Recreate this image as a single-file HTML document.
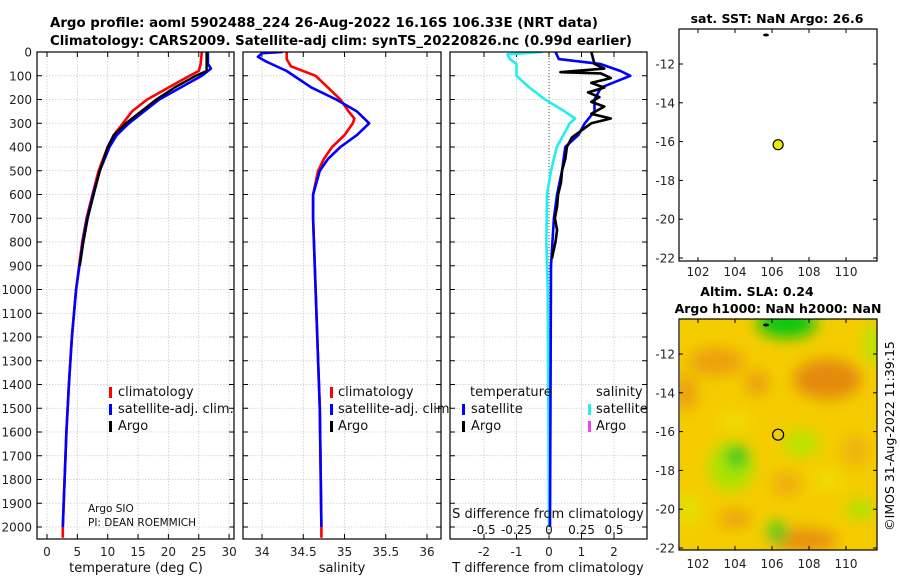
<!DOCTYPE html>
<html><head><meta charset="utf-8">
<style>
body{margin:0;background:#fff;}
svg{font-family:"DejaVu Sans","Liberation Sans",sans-serif;}
</style></head>
<body>
<svg id="chart" width="900" height="580" viewBox="0 0 900 580" xmlns="http://www.w3.org/2000/svg">
<defs>
<clipPath id="c1"><rect x="37" y="52" width="197" height="487"/></clipPath>
<clipPath id="c2"><rect x="243" y="52" width="198" height="487"/></clipPath>
<clipPath id="c3"><rect x="450" y="52" width="197" height="487"/></clipPath>
<clipPath id="cm"><rect x="680" y="319" width="197" height="231"/></clipPath>
<filter id="bl" x="-50%" y="-50%" width="200%" height="200%"><feGaussianBlur stdDeviation="7"/></filter>
</defs>
<text x="50" y="27" font-size="13" font-weight="bold" textLength="548" lengthAdjust="spacingAndGlyphs">Argo profile: aoml 5902488_224 26-Aug-2022 16.16S 106.33E (NRT data)</text>
<text x="50" y="45" font-size="13" font-weight="bold" textLength="582" lengthAdjust="spacingAndGlyphs">Climatology: CARS2009. Satellite-adj clim: synTS_20220826.nc (0.99d earlier)</text>
<g id="g"></g>
<text x="777" y="23" font-size="12.5" font-weight="bold" text-anchor="middle">sat. SST: NaN Argo: 26.6</text>
<text x="757" y="296" font-size="12.5" font-weight="bold" text-anchor="middle">Altim. SLA: 0.24</text>
<text x="778" y="313" font-size="12.5" font-weight="bold" text-anchor="middle">Argo h1000: NaN h2000: NaN</text>
<text transform="translate(894,436) rotate(-90)" font-size="12.5" text-anchor="middle">©IMOS 31-Aug-2022 11:39:15</text>
</svg>
<script>
const depthTicks=[0,100,200,300,400,500,600,700,800,900,1000,1100,1200,1300,1400,1500,1600,1700,1800,1900,2000];
const tempTicks=[0,5,10,15,20,25,30];
const salTicks=[34,34.5,35,35.5,36];
const tdiffTicks=[-2,-1,0,1,2];
const sdiffTicks=[-0.5,-0.25,0,0.25,0.5];
const sdiffLabels=["-0.5","-0.25","0","0.25","0.5"];
const lonTicks=[102,104,106,108,110];
const latTicks=[-12,-14,-16,-18,-20,-22];

const tClimDepth=[0,50,80,100,150,200,250,300,350,400,500,600,700,800,1000,1200,1400,1600,1800,2000,2045];
const tClim=[25.5,25.3,25,23.5,20,16.5,14,12.5,11,10,8.5,7.5,6.5,5.8,4.8,4.1,3.6,3.2,2.9,2.6,2.6];
const tSatDepth=[0,50,70,100,150,200,250,300,350,400,500,600,700,800,1000,1200,1400,1600,1800,2000];
const tSat=[26.5,26.5,27,25.5,22,18.5,16,13.5,11.5,10.3,8.7,7.6,6.6,5.9,4.8,4.1,3.6,3.2,2.9,2.6];
const tArgoDepth=[0,80,100,150,200,250,300,350,400,500,600,700,800,900];
const tArgo=[26.3,26.3,24.5,21,18,15.5,13,11,10,8.7,7.7,6.7,6,5.4];

const sClimDepth=[0,30,60,100,150,200,250,280,300,350,400,450,500,600,700,1000,1500,2000,2045];
const sClim=[34.3,34.3,34.35,34.65,34.8,34.95,35.05,35.12,35.1,35.0,34.85,34.75,34.68,34.62,34.62,34.65,34.7,34.72,34.72];
const sSatDepth=[0,5,20,40,80,150,200,250,300,350,400,450,500,600,700,1000,1500,2000];
const sSat=[34.25,34.0,33.95,34.05,34.3,34.6,34.9,35.15,35.3,35.15,34.95,34.8,34.7,34.62,34.62,34.65,34.7,34.72];

const dTSatDepth=[0,30,50,80,100,150,200,250,300,350,400,500,600,700,900,2000];
const dTSat=[0.2,0.3,1.57,2.2,2.5,1.6,1.4,1.4,1.1,0.9,0.5,0.4,0.25,0.15,0.06,0.03];
const dTArgoDepth=[0,50,70,85,90,110,130,150,170,190,210,230,260,280,300,330,360,400,450,500,550,600,650,700,750,800,850,870];
const dTArgo=[1.3,1.4,1.7,0.35,1.6,1.9,1.3,1.7,1.2,1.55,1.3,1.7,1.3,1.9,1.3,1.0,0.7,0.55,0.5,0.4,0.37,0.28,0.25,0.18,0.25,0.2,0.12,0.09];
const dSSatDepth=[0,10,30,50,100,150,200,250,280,300,400,500,600,800,1000,2000];
const dSSat=[-0.05,-0.32,-0.3,-0.25,-0.25,-0.15,-0.03,0.12,0.2,0.16,0.06,0.015,-0.015,-0.02,-0.01,0];

const floatLon=[106.33];
const floatLat=[-16.16];

const NS="http://www.w3.org/2000/svg";
const G=document.getElementById('g');
function el(tag,attrs,parent){const e=document.createElementNS(NS,tag);for(const k in attrs)e.setAttribute(k,attrs[k]);(parent||G).appendChild(e);return e;}
const yD=d=>52+d*0.2375;
const xT=v=>47+v*6.07;
const xS=v=>262+(v-34)*82.5;
const xdT=v=>549+v*32.5;
const xdS=v=>549+v*130;
const bottom=539;

function panel(x0,x1,name){
  const r=el('rect',{x:x0,y:52,width:x1-x0,height:bottom-52,fill:'#fff',stroke:'none'});
  
  
  depthTicks.forEach(d=>{
    const l=el('line',{x1:x0,x2:x1,y1:yD(d),y2:yD(d),stroke:'#c8c8e0','stroke-width':0.8,'stroke-dasharray':'1.5,1.5'});
    
    
    el('line',{x1:x0,x2:x0+5,y1:yD(d),y2:yD(d),stroke:'#000'});
    el('line',{x1:x1-5,x2:x1,y1:yD(d),y2:yD(d),stroke:'#000'});
  });
}
function vgrid(xs,f,x0,x1,labels,name){
  xs.forEach((v,i)=>{
    const x=f(v);
    const l=el('line',{x1:x,x2:x,y1:52,y2:bottom,stroke:'#c8c8e0','stroke-width':0.8,'stroke-dasharray':'1.5,1.5'});
    
    
    el('line',{x1:x,x2:x,y1:bottom,y2:bottom-5,stroke:'#000'});
    el('line',{x1:x,x2:x,y1:52,y2:57,stroke:'#000'});
    if(labels){const t=el('text',{x:x,y:556,'font-size':12,'text-anchor':'middle',fill:'#222'});t.textContent=labels[i];
      
      }
  });
}
function line(depths,vals,f,color,clip,name,w){
  const p=depths.map((d,i)=>(i?'L':'M')+f(vals[i]).toFixed(1)+','+yD(d).toFixed(1)).join('');
  const e=el('path',{d:p,fill:'none',stroke:color,'stroke-width':w||2.6,'clip-path':'url(#'+clip+')','stroke-linejoin':'round'});
  
  
}
function frame(x0,x1,name){
  const r=el('rect',{x:x0,y:52,width:x1-x0,height:bottom-52,fill:'none',stroke:'#000','stroke-width':1.2});
  
  
}
function txt(x,y,s,size,name,anchor){const t=el('text',{x:x,y:y,'font-size':size,'text-anchor':anchor||'start',fill:'#111'});t.textContent=s;
  
  return t;}
function legMark(x,y,color,name){const r=el('rect',{x:x,y:y-9,width:3,height:11,fill:color});
  
  }

// Panel 1 temperature
panel(37,234,'temperature');
vgrid(tempTicks,xT,37,234,tempTicks.map(String),'temperature-x');
depthTicks.forEach(d=>{const t=txt(32,yD(d)+4.5,String(d),12,'depth-tick-label','end');t.setAttribute('fill','#222');});
line(tClimDepth,tClim,xT,'#ff0000','c1','temperature-climatology-line');
line(tSatDepth,tSat,xT,'#0000ff','c1','temperature-satellite-line');
line(tArgoDepth,tArgo,xT,'#000000','c1','temperature-argo-line',2.4);
frame(37,234,'temperature');
txt(136,572,'temperature (deg C)',13,'temperature-axis-title','middle');
legMark(109,396,'#ff0000','legend-climatology-mark');txt(118,396,'climatology',13,'legend-climatology');
legMark(109,413,'#0000ff','legend-satellite-mark');txt(118,413,'satellite-adj. clim.',13,'legend-satellite');
legMark(109,430,'#000','legend-argo-mark');txt(118,430,'Argo',13,'legend-argo');
txt(88,512,'Argo SIO',10.5,'argo-institution');
txt(88,526,'PI: DEAN ROEMMICH',10.5,'argo-pi');

// Panel 2 salinity
panel(243,441,'salinity');
vgrid(salTicks,xS,243,441,salTicks.map(String),'salinity-x');
line(sClimDepth,sClim,xS,'#ff0000','c2','salinity-climatology-line');
line(sSatDepth,sSat,xS,'#0000ff','c2','salinity-satellite-line');
frame(243,441,'salinity');
txt(342,572,'salinity',13,'salinity-axis-title','middle');
legMark(330,396,'#ff0000','legend2-climatology-mark');txt(338,396,'climatology',13,'legend2-climatology');
legMark(330,413,'#0000ff','legend2-satellite-mark');txt(338,413,'satellite-adj. clim.',13,'legend2-satellite');
legMark(330,430,'#000','legend2-argo-mark');txt(338,430,'Argo',13,'legend2-argo');

// Panel 3 differences
panel(450,647,'difference');
vgrid(tdiffTicks,xdT,450,647,tdiffTicks.map(String),'tdiff-x');
const zl=el('line',{x1:xdT(0),x2:xdT(0),y1:52,y2:bottom,stroke:'#336633','stroke-width':1,'stroke-dasharray':'1,2'});


line(dSSatDepth,dSSat,xdS,'#22eeee','c3','salinity-diff-satellite-line');
line(dTSatDepth,dTSat,xdT,'#0000ff','c3','temperature-diff-satellite-line');
line(dTArgoDepth,dTArgo,xdT,'#000','c3','temperature-diff-argo-line');
frame(450,647,'difference');
txt(548,572,'T difference from climatology',13,'tdiff-axis-title','middle');
txt(548,518,'S difference from climatology',13,'sdiff-axis-title','middle');
sdiffTicks.forEach((v,i)=>{const t=txt(xdS(v),534,sdiffLabels[i],12,'sdiff-tick-label','middle');});
txt(470,396,'temperature',13,'legend3-temperature-header');
txt(596,396,'salinity',13,'legend3-salinity-header');
legMark(462,413,'#0000ff','legend3-tsat-mark');txt(471,413,'satellite',13,'legend3-tsat');
legMark(462,430,'#000','legend3-targo-mark');txt(471,430,'Argo',13,'legend3-targo');
legMark(588,413,'#22eeee','legend3-ssat-mark');txt(596,413,'satellite',13,'legend3-ssat');
legMark(588,430,'#ee44ee','legend3-sargo-mark');txt(596,430,'Argo',13,'legend3-sargo');

// Maps
const xL=v=>698+(v-102)*18.5;
function mapAxes(top,bot,lat12,lat22,name,lab){
  const yL=v=>lat12+(v+12)*(lat22-lat12)/-10;
  lonTicks.forEach(v=>{el('line',{x1:xL(v),x2:xL(v),y1:bot,y2:bot-4,stroke:'#000'});el('line',{x1:xL(v),x2:xL(v),y1:top,y2:top+4,stroke:'#000'});
    const t=txt(xL(v),bot+lab,String(v),12,name+'-lon-label','middle');t.setAttribute('fill','#222');});
  latTicks.forEach(v=>{el('line',{x1:679,x2:683,y1:yL(v),y2:yL(v),stroke:'#000'});el('line',{x1:873,x2:877,y1:yL(v),y2:yL(v),stroke:'#000'});
    const t=txt(675,yL(v)+4.5,String(v),12,name+'-lat-label','end');t.setAttribute('fill','#222');});
  const r=el('rect',{x:679,y:top,width:198,height:bot-top,fill:'none',stroke:'#000','stroke-width':1.2});
  
  
  return yL;
}

// SLA map background first
const bg=el('g',{'clip-path':'url(#cm)'});
el('rect',{x:679,y:319,width:198,height:231,fill:'#f4cc00'},bg);
const blobs=[[109,-13.3,34,20,'#e48a10'],[103,-12.4,28,14,'#eca010'],[101.3,-14,12,18,'#eca010'],[105.2,-13.5,12,13,'#eca010'],[107.7,-21.6,34,12,'#e89010'],[104,-20.5,16,9,'#eca010'],[106.8,-18.7,14,12,'#eeac10'],[110.5,-17,14,16,'#eeb410'],
[103.8,-17.8,22,24,'#a8e400'],[104.1,-17.3,11,11,'#20c820'],[106.8,-10.4,30,15,'#10c810'],[106.3,-21.2,10,11,'#40cc20'],[107.6,-16.6,18,13,'#b8e400'],[110.8,-20,14,9,'#a8e400'],[101.5,-20,12,16,'#e4e000'],[111.5,-11.5,10,22,'#b8e400'],[104,-15.5,16,10,'#f0dc00'],[109,-18.5,16,10,'#f0dc00']];
const bgroup=el('g',{filter:'url(#bl)'},bg);
blobs.forEach(b=>{const e=el('ellipse',{cx:xL(b[0]),cy:354+(b[1]+12)*-19.4,rx:b[2],ry:b[3],fill:b[4]},bgroup);
  
  });



const yL1=mapAxes(29,261,64,258,'sst-map',15);
const fd=el('circle',{cx:xL(floatLon[0]),cy:yL1(floatLat[0]),r:5,fill:'#e8f000',stroke:'#000','stroke-width':1.2});


const pd=el('ellipse',{cx:766,cy:35,rx:3,ry:1.5,fill:'#000'});



const yL2=mapAxes(319,550,354,548,'sla-map',18);
const fc=el('circle',{cx:xL(floatLon[0]),cy:yL2(floatLat[0]),r:5.5,fill:'none',stroke:'#000','stroke-width':1.2});


const pd2=el('ellipse',{cx:766,cy:325,rx:3,ry:1.5,fill:'#000'});


</script>
</body></html>
